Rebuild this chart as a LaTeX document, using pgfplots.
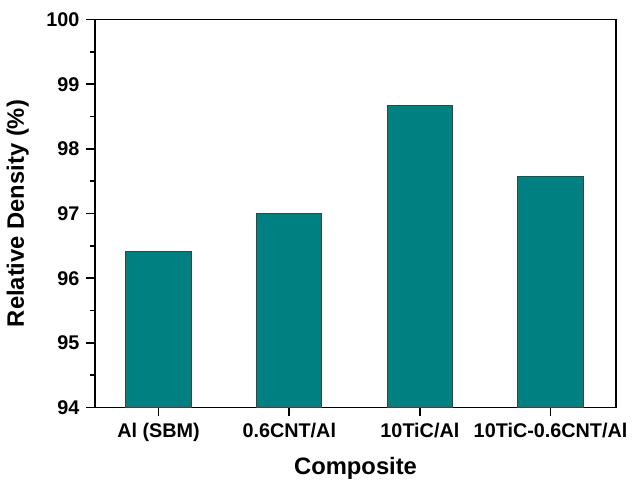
\documentclass[border=0pt]{standalone}
\usepackage{pgfplots}
\pgfplotsset{compat=1.18}
\usepackage{fontspec}
\setmainfont{Liberation Sans}
\definecolor{barteal}{RGB}{0,128,128}
\begin{document}
\begin{tikzpicture}
\begin{axis}[
  scale only axis,
  width=263pt, height=196pt,
  xmin=-0.485, xmax=3.5,
  ymin=94, ymax=100,
  xtick={0,1,2,3},
  xticklabels={Al (SBM),0.6CNT/Al,10TiC/Al,10TiC-0.6CNT/Al},
  ytick={94,95,96,97,98,99,100},
  minor y tick num=1,
  tick align=outside,
  xtick pos=bottom, ytick pos=left,
  major tick length=4.5pt,
  minor tick length=2.5pt,
  every tick/.style={line width=0.9pt, black},
  axis line style={line width=0.9pt},
  tick label style={font=\fontsize{10}{12}\selectfont\bfseries},
  /pgf/number format/assume math mode=true,
  xlabel={Composite},
  ylabel={Relative Density (\%)},
  label style={font=\fontsize{12}{14}\selectfont\bfseries},
  xlabel style={yshift=-1pt},
  ylabel style={yshift=2pt},
]
\addplot[ybar, bar width=0.5, fill=barteal, draw=black!75, line width=0.5pt]
  coordinates {(0,96.41) (1,97.00) (2,98.67) (3,97.58)};
\end{axis}
\path ([yshift=3pt]current axis.outer north);
\end{tikzpicture}
\end{document}
